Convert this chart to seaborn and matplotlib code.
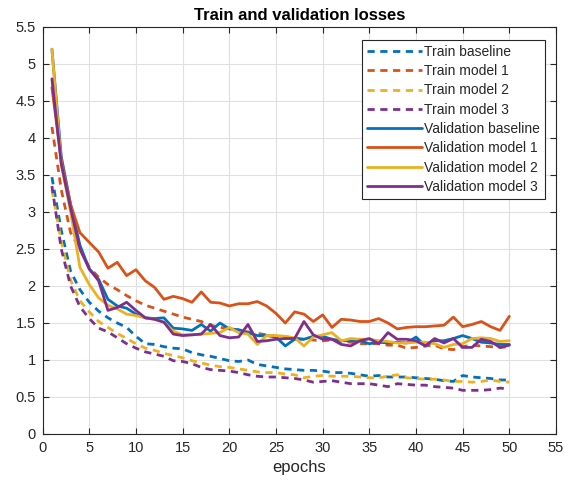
import matplotlib
matplotlib.use("Agg")
import matplotlib.pyplot as plt
import seaborn as sns
import numpy as np

epochs = list(range(1, 51))

train_baseline = [3.47, 2.75, 2.2, 1.95, 1.78, 1.66, 1.57, 1.5, 1.44, 1.32,
                  1.22, 1.21, 1.18, 1.16, 1.15, 1.1, 1.07, 1.05, 1.02, 0.99,
                  0.98, 1.0, 0.94, 0.92, 0.9, 0.88, 0.87, 0.86, 0.86, 0.85,
                  0.83, 0.83, 0.82, 0.8, 0.78, 0.79, 0.77, 0.77, 0.77, 0.76,
                  0.75, 0.74, 0.72, 0.71, 0.79, 0.77, 0.76, 0.75, 0.73, 0.73]
train_model1 = [4.15, 3.3, 2.72, 2.5, 2.25, 2.12, 2.02, 1.95, 1.87, 1.8,
                1.74, 1.7, 1.66, 1.62, 1.58, 1.55, 1.52, 1.47, 1.44, 1.42,
                1.4, 1.38, 1.36, 1.34, 1.32, 1.31, 1.3, 1.28, 1.27, 1.26,
                1.27, 1.25, 1.24, 1.22, 1.22, 1.22, 1.2, 1.2, 1.16, 1.17,
                1.19, 1.2, 1.15, 1.14, 1.18, 1.2, 1.19, 1.18, 1.17, 1.18]
train_model2 = [3.3, 2.6, 2.08, 1.8, 1.65, 1.52, 1.44, 1.36, 1.29, 1.22,
                1.16, 1.13, 1.09, 1.06, 1.03, 0.99, 0.96, 0.93, 0.91, 0.9,
                0.88, 0.86, 0.84, 0.83, 0.83, 0.81, 0.8, 0.76, 0.78, 0.79,
                0.78, 0.78, 0.78, 0.77, 0.76, 0.76, 0.78, 0.8, 0.76, 0.75,
                0.74, 0.74, 0.73, 0.71, 0.71, 0.7, 0.71, 0.73, 0.71, 0.7]
train_model3 = [3.35, 2.5, 2.0, 1.72, 1.56, 1.43, 1.38, 1.3, 1.22, 1.16,
                1.11, 1.08, 1.05, 0.99, 0.98, 0.95, 0.9, 0.87, 0.86, 0.85,
                0.83, 0.8, 0.78, 0.77, 0.77, 0.76, 0.75, 0.73, 0.7, 0.71,
                0.72, 0.7, 0.68, 0.68, 0.68, 0.66, 0.64, 0.68, 0.67, 0.66,
                0.66, 0.64, 0.63, 0.62, 0.59, 0.59, 0.59, 0.6, 0.62, 0.61]
val_baseline = [5.2, 3.75, 3.1, 2.55, 2.23, 2.09, 1.82, 1.73, 1.7, 1.62,
                1.57, 1.56, 1.57, 1.43, 1.42, 1.4, 1.48, 1.39, 1.5, 1.42,
                1.41, 1.37, 1.33, 1.33, 1.31, 1.19, 1.28, 1.28, 1.32, 1.32,
                1.28, 1.26, 1.26, 1.26, 1.22, 1.24, 1.23, 1.24, 1.23, 1.31,
                1.19, 1.26, 1.26, 1.29, 1.33, 1.29, 1.24, 1.23, 1.21, 1.21]
val_model1 = [4.68, 3.7, 3.1, 2.72, 2.59, 2.46, 2.24, 2.32, 2.14, 2.22,
              2.07, 1.98, 1.82, 1.86, 1.83, 1.78, 1.92, 1.78, 1.77, 1.73,
              1.76, 1.76, 1.79, 1.73, 1.63, 1.5, 1.65, 1.62, 1.52, 1.61,
              1.44, 1.55, 1.54, 1.52, 1.52, 1.56, 1.5, 1.42, 1.44, 1.45,
              1.45, 1.46, 1.47, 1.58, 1.45, 1.48, 1.52, 1.45, 1.4, 1.59]
val_model2 = [5.2, 3.65, 3.0, 2.25, 2.02, 1.84, 1.74, 1.69, 1.62, 1.6,
              1.57, 1.55, 1.51, 1.39, 1.34, 1.34, 1.35, 1.36, 1.37, 1.44,
              1.37, 1.35, 1.21, 1.33, 1.33, 1.32, 1.3, 1.19, 1.31, 1.34,
              1.37, 1.26, 1.29, 1.28, 1.28, 1.26, 1.25, 1.23, 1.23, 1.24,
              1.24, 1.22, 1.17, 1.21, 1.22, 1.29, 1.3, 1.29, 1.25, 1.26]
val_model3 = [4.8, 3.65, 3.05, 2.5, 2.23, 2.07, 1.67, 1.71, 1.78, 1.67,
              1.57, 1.55, 1.51, 1.35, 1.33, 1.34, 1.35, 1.48, 1.33, 1.3,
              1.31, 1.48, 1.25, 1.26, 1.28, 1.29, 1.29, 1.52, 1.34, 1.28,
              1.28, 1.21, 1.19, 1.26, 1.29, 1.22, 1.37, 1.28, 1.28, 1.26,
              1.19, 1.29, 1.23, 1.29, 1.17, 1.17, 1.28, 1.25, 1.17, 1.2]

labels = ["Train baseline", "Train model 1", "Train model 2", "Train model 3",
          "Validation baseline", "Validation model 1", "Validation model 2",
          "Validation model 3"]
series = [train_baseline, train_model1, train_model2, train_model3,
          val_baseline, val_model1, val_model2, val_model3]
colors = ["#0072BD", "#D95319", "#EDB120", "#7E2F8E"] * 2
xticks = list(range(0, 56, 5))
yticks = [0, 0.5, 1, 1.5, 2, 2.5, 3, 3.5, 4, 4.5, 5, 5.5]
ytick_labels = ["0", "0.5", "1", "1.5", "2", "2.5", "3", "3.5", "4", "4.5", "5", "5.5"]

sns.set_style("ticks")
plt.rcParams['font.family'] = ['Liberation Sans', 'DejaVu Sans']

fig = plt.figure(figsize=(5.65, 4.82), dpi=100)
ax = fig.add_axes([0.0754, 0.0996, 0.9087, 0.8444])

for i, (lab, vals) in enumerate(zip(labels, series)):
    dashed = i < 4
    sns.lineplot(x=epochs, y=vals, ax=ax, color=colors[i], label=lab,
                 linewidth=2.0, linestyle="--" if dashed else "-")
    if dashed:
        ax.lines[-1].set_dashes((2.6, 2.0))

ax.set_xlim(0, 55)
ax.set_ylim(0, 5.5)
ax.set_xticks(xticks)
ax.set_yticks(yticks)
ax.set_yticklabels(ytick_labels)
ax.grid(True, color="#e0e0e0", linewidth=0.8)
ax.set_axisbelow(True)
for s in ax.spines.values():
    s.set_visible(True)
    s.set_color("#262626")
    s.set_linewidth(0.8)
ax.tick_params(direction="in", length=4.5, width=0.8, top=True, right=True,
               labelsize=10.5, colors="#262626", pad=5)
ax.set_xlabel("epochs", fontsize=12, color="#262626", labelpad=4)
ax.set_ylabel("")
ax.set_title("Train and validation losses", fontsize=12, fontweight="bold",
             color="black", pad=5)

leg = ax.legend(loc="upper right", bbox_to_anchor=(0.9786, 0.968), fontsize=10,
                frameon=True, fancybox=False, framealpha=1, edgecolor="#262626",
                handlelength=3.9, handletextpad=0.2, labelspacing=0.38,
                borderpad=0.35, borderaxespad=0)
leg.get_frame().set_linewidth(0.8)

fig.savefig("out.png", dpi=100)
